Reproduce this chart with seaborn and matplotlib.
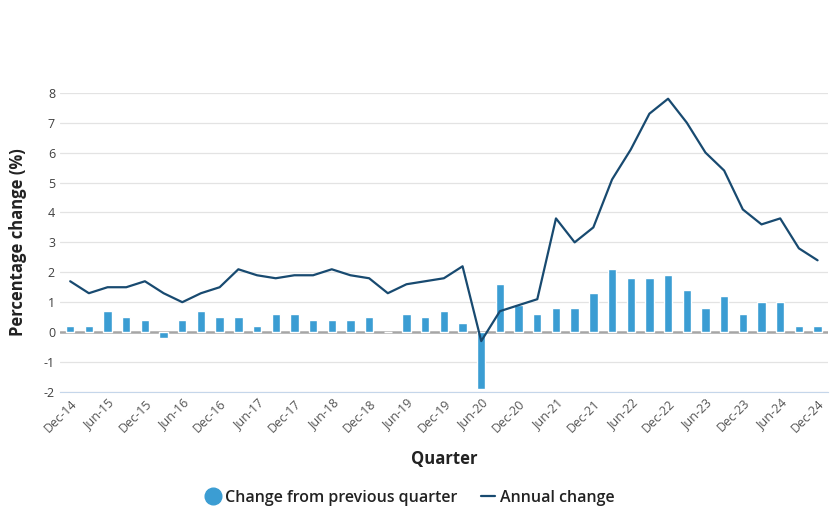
import seaborn as sns
import numpy as np
import pandas as pd
import matplotlib.pyplot as plt
from matplotlib.lines import Line2D

# Quarterly CPI changes, Dec-14 to Dec-24
months = ['Mar', 'Jun', 'Sep', 'Dec']
quarters = ['Dec-14'] + [f'{m}-{y}' for y in range(15, 25) for m in months]

quarterly = [0.2, 0.2, 0.7, 0.5, 0.4, -0.2, 0.4, 0.7, 0.5, 0.5,
             0.2, 0.6, 0.6, 0.4, 0.4, 0.4, 0.5, 0.0, 0.6, 0.5,
             0.7, 0.3, -1.9, 1.6, 0.9, 0.6, 0.8, 0.8, 1.3, 2.1,
             1.8, 1.8, 1.9, 1.4, 0.8, 1.2, 0.6, 1.0, 1.0, 0.2, 0.2]
annual = [1.7, 1.3, 1.5, 1.5, 1.7, 1.3, 1.0, 1.3, 1.5, 2.1,
          1.9, 1.8, 1.9, 1.9, 2.1, 1.9, 1.8, 1.3, 1.6, 1.7,
          1.8, 2.2, -0.3, 0.7, 0.9, 1.1, 3.8, 3.0, 3.5, 5.1,
          6.1, 7.3, 7.8, 7.0, 6.0, 5.4, 4.1, 3.6, 3.8, 2.8, 2.4]

bar_col = '#3b9dd3'
line_col = '#184a70'

df = pd.DataFrame({'quarter': quarters, 'quarterly': quarterly, 'annual': annual})

sns.set_style('white')
plt.rcParams['font.family'] = ['Open Sans', 'DejaVu Sans']
plt.rcParams['axes.unicode_minus'] = False

fig = plt.figure(figsize=(8.32, 5.24), dpi=100)
ax = fig.add_axes([0.072, 0.252, 0.923, 0.571])

ax.axhline(0, color='#a6a6a6', lw=1.8, zorder=1)
sns.barplot(data=df, x='quarter', y='quarterly', color=bar_col, width=0.45,
            saturation=1, ax=ax, zorder=2)
sns.lineplot(x=np.arange(len(quarters)), y=annual, color=line_col, lw=1.6,
             ax=ax, zorder=3)

ax.set_ylim(-2, 8)
ax.set_yticks(range(-2, 9))
ax.set_xlim(-0.55, len(quarters) - 0.45)
ax.grid(axis='y', color='#e3e3e3', lw=0.9)
ax.set_axisbelow(True)
for s in ['top', 'right', 'left']:
    ax.spines[s].set_visible(False)
ax.spines['bottom'].set_color('#c5d6ea')
ax.tick_params(axis='both', length=0, colors='#404040', labelsize=9)

ax.set_xticks(range(0, len(quarters), 2))
ax.set_xticklabels(quarters[::2], rotation=45, ha='right', rotation_mode='anchor',
                   fontsize=9, color='#555555')

ax.set_xlabel('Quarter', fontsize=12, fontweight='bold', color='#222222', labelpad=11)
ax.set_ylabel('Percentage change (%)', fontsize=12, fontweight='bold', color='#222222',
              labelpad=12)

handles = [Line2D([], [], marker='o', ls='none', color=bar_col, markersize=12),
           Line2D([], [], color=line_col, lw=1.6)]
fig.legend(handles, ['Change from previous quarter', 'Annual change'],
           loc='center', bbox_to_anchor=(0.493, 0.05), ncol=2, frameon=False,
           prop={'size': 11.5, 'weight': 'semibold'}, handlelength=0.9,
           handletextpad=0.3, columnspacing=1.5, labelcolor='#222222')

fig.savefig('out.png', dpi=100)
